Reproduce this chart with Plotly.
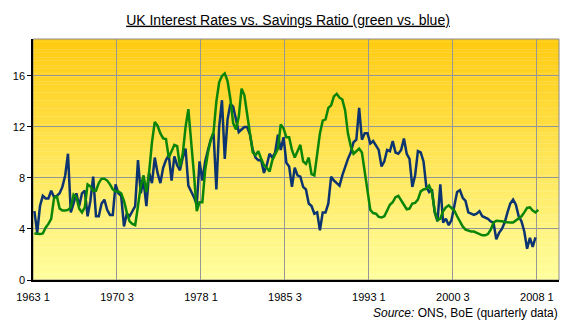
import plotly.graph_objects as go

# Quarterly series, 1963 Q1 onwards
interest_rate = [
    3.65, 3.6, 3.6, 3.65, 4.1, 4.4, 4.8, 6.4, 6.6, 5.6,
    5.45, 5.45, 5.5, 5.7, 6.7, 6.5, 5.6, 5.3, 5.7, 7.5,
    7.35, 7.0, 7.0, 7.6, 7.95, 7.95, 7.8, 7.5, 7.1, 6.95,
    6.95, 6.8, 6.2, 5.3, 4.6, 4.4, 4.3, 5.8, 7.4, 8.2,
    6.9, 8.5, 10.8, 12.4, 12.1, 11.5, 11.1, 11.05, 9.6, 10.1,
    10.6, 10.5, 8.9, 9.9, 12.0, 13.4, 11.0, 8.3, 5.4, 6.1,
    6.1, 8.6, 10.0, 11.0, 11.6, 14.0, 15.5, 16.0, 16.2, 15.6,
    14.2, 12.3, 11.8, 12.8, 15.0, 14.5, 13.0, 11.6, 10.0, 9.8,
    10.1, 9.5, 9.0, 8.8, 8.5, 9.4, 9.9, 10.3, 12.2, 11.9,
    11.2, 11.2, 10.2, 9.6, 10.1, 10.6, 9.3, 9.1, 9.6, 8.3,
    8.2, 10.0, 11.5, 12.5, 12.6, 13.5, 13.7, 14.4, 14.6, 14.3,
    14.15, 13.3, 11.5, 10.5, 9.9, 10.1, 10.3, 10.0, 8.4, 6.7,
    5.5, 5.25, 5.2, 4.95, 4.9, 5.0, 5.5, 5.9, 6.1, 6.5,
    6.6, 6.3, 5.9, 5.55, 5.6, 6.0, 6.05, 6.3, 6.95, 7.1,
    7.15, 7.4, 6.9, 5.4, 4.7, 4.8, 5.4, 5.7, 5.85, 5.65,
    5.45, 5.0, 4.55, 4.2, 3.95, 3.85, 3.8, 3.8, 3.7, 3.6,
    3.5, 3.5, 3.6, 3.95, 4.5, 4.65, 4.65, 4.6, 4.55, 4.5,
    4.5, 4.5, 4.65, 4.8, 5.0, 5.3, 5.65, 5.7, 5.45, 5.3, 5.5,
]

savings_ratio = [
    5.4, 3.7, 5.8, 6.6, 6.4, 6.4, 7.0, 6.5, 6.6, 6.8,
    7.3, 8.2, 9.9, 5.3, 6.0, 6.8, 5.8, 6.8, 7.0, 5.0,
    6.2, 8.1, 5.0, 5.0, 6.0, 6.3, 5.5, 5.1, 5.1, 7.5,
    6.8, 6.6, 4.2, 5.2, 5.0, 5.4, 5.8, 9.4, 6.8, 7.8,
    5.8, 8.4, 7.6, 9.6, 8.4, 7.6, 8.8, 9.4, 9.8, 7.8,
    9.7, 9.0, 8.6, 9.6, 10.3, 7.4, 7.0, 6.5, 5.9, 9.3,
    7.8, 9.3, 10.2, 11.0, 11.5, 7.1, 12.0, 14.1, 9.5, 12.6,
    13.8, 13.6, 12.6, 11.6, 11.8, 12.0, 12.0, 11.4, 10.2, 9.6,
    9.4, 9.4, 8.4, 9.0, 9.9, 9.6, 10.0, 11.4, 10.2, 11.2,
    9.2, 8.9, 7.3, 8.8, 8.2, 8.1, 7.3, 7.1, 6.0, 5.8,
    5.2, 5.3, 3.9, 5.3, 5.3, 6.0, 8.1, 7.8, 7.6, 7.4,
    8.2, 8.9, 9.5, 10.0, 10.8, 11.0, 13.5, 11.0, 11.5, 11.5,
    10.7, 10.9, 10.5, 10.2, 8.9, 9.3, 10.2, 10.1, 10.9, 10.0,
    9.9, 10.2, 11.1, 9.9, 9.5, 7.3, 8.2, 10.1, 10.0, 9.3,
    7.3, 6.9, 7.1, 5.3, 4.6, 7.5, 4.5, 4.8, 4.3, 4.7,
    5.8, 6.9, 7.05, 6.45, 6.2, 5.3, 5.2, 5.1, 5.2, 5.4,
    5.0, 4.9, 4.8, 4.6, 4.5, 3.2, 3.7, 4.0, 4.5, 5.3,
    6.0, 6.3, 5.9, 5.0, 4.6, 3.8, 2.45, 3.3, 2.6, 3.35,
]

first_year = 1963
quarter_labels = [f"{first_year + k // 4} {k % 4 + 1}" for k in range(len(interest_rate))]
label_every = 30
y_ticks = [0, 4, 8, 12, 16]

FONT = "Liberation Sans, Arial, sans-serif"
Y_MAX = 18.9
X_MAX = 187.4

fig = go.Figure()

fig.add_trace(go.Scatter(
    x=list(range(len(savings_ratio))), y=savings_ratio,
    mode="lines", line=dict(color="#0B3470", width=2.5),
    name="Savings ratio", hoverinfo="skip",
))
fig.add_trace(go.Scatter(
    x=list(range(len(interest_rate))), y=interest_rate,
    mode="lines", line=dict(color="#0A850A", width=2.5),
    name="Interest rate", hoverinfo="skip",
))

# vertical gradient for the plotting area: golden at top, pale yellow at bottom
shapes = []
n_strips = 90
top_rgb = (255, 203, 15)
bot_rgb = (255, 255, 158)
for k in range(n_strips):
    f = (k + 0.5) / n_strips
    c = tuple(round(b + (t - b) * f) for t, b in zip(top_rgb, bot_rgb))
    shapes.append(dict(
        type="rect", xref="x domain", yref="y",
        x0=0, x1=1, y0=Y_MAX * k / n_strips, y1=Y_MAX * (k + 1) / n_strips + 0.02,
        fillcolor=f"rgb{c}", line=dict(width=0), layer="below",
    ))
shapes.append(dict(
    type="rect", xref="x domain", yref="y domain", x0=0, x1=1, y0=0, y1=1,
    line=dict(color="#8C8C8C", width=1), fillcolor="rgba(0,0,0,0)", layer="below",
))

tick_idx = list(range(0, len(quarter_labels), label_every))

fig.update_layout(
    width=576, height=330,
    margin=dict(l=33, r=17, t=39, b=50),
    paper_bgcolor="white", plot_bgcolor="rgba(0,0,0,0)",
    showlegend=False,
    font=dict(family=FONT, size=11, color="black"),
    title=dict(
        text="<u>UK Interest Rates vs. Savings Ratio (green vs. blue)</u>",
        x=0.5, xanchor="center", y=0.94, yanchor="middle",
        font=dict(family=FONT, size=14, color="black"),
    ),
    shapes=shapes,
    xaxis=dict(
        range=[-0.5, X_MAX],
        tickmode="array",
        tickvals=[i - 0.5 for i in tick_idx],
        ticktext=[quarter_labels[i] for i in tick_idx],
        showgrid=True, gridcolor="#969696", gridwidth=1,
        showline=True, linecolor="black", linewidth=2,
        ticks="", ticklabelstandoff=6,
        zeroline=False, tickfont=dict(size=11),
    ),
    yaxis=dict(
        range=[0, Y_MAX],
        tickmode="array", tickvals=y_ticks,
        showgrid=True, gridcolor="#969696", gridwidth=1,
        showline=True, linecolor="black", linewidth=1.5,
        ticks="outside", ticklen=4, tickcolor="black", tickwidth=1,
        zeroline=False, tickfont=dict(size=11),
    ),
    annotations=[dict(
        text="<i>Source:</i> ONS, BoE (quarterly data)",
        xref="paper", yref="paper", x=1.002, y=-0.137,
        xanchor="right", yanchor="middle", showarrow=False,
        font=dict(family=FONT, size=12, color="black"),
    )],
)

fig.write_html("out.html")
